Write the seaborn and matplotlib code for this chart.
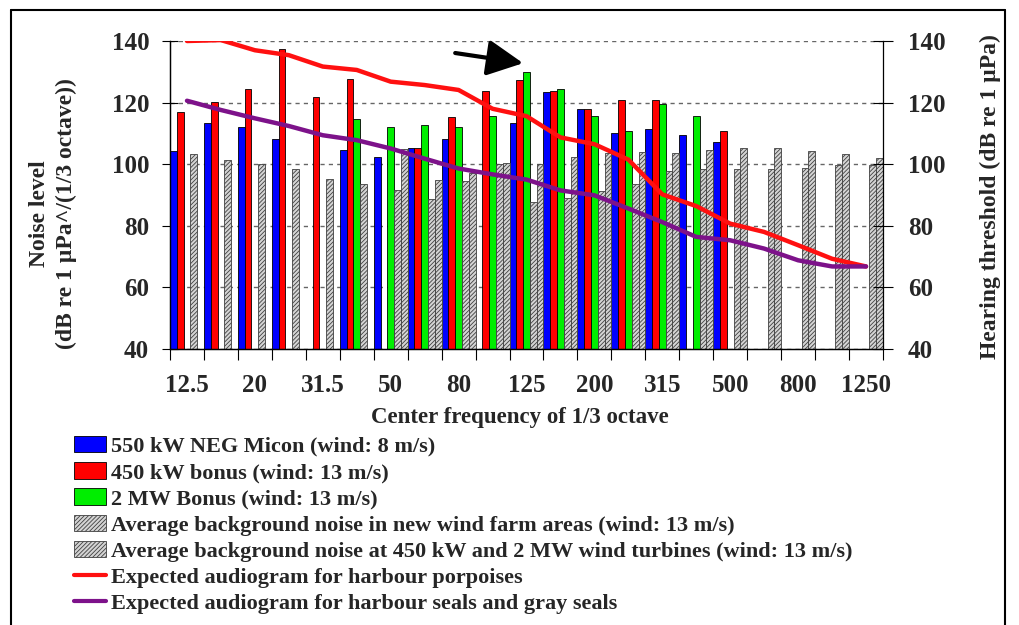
import numpy as np
import pandas as pd
import seaborn as sns
import matplotlib.pyplot as plt
from matplotlib.patches import Patch
from matplotlib.lines import Line2D

nan = np.nan

# 1/3 octave centre frequencies (Hz)
freqs = ["12.5", "16", "20", "25", "31.5", "40", "50", "63", "80", "100", "125",
         "160", "200", "250", "315", "400", "500", "630", "800", "1000", "1250"]

# noise levels, dB re 1 uPa^2/(1/3 octave)
neg_micon_550 = [104.3, 113.4, 112.1, 108.2, nan, 104.6, 102.2, 105.4, 108.1, nan, 113.4,
                 123.5, 117.8, 110.0, 111.3, 109.6, 107.3, nan, nan, nan, nan]
bonus_450 = [117.0, 120.1, 124.3, 137.4, 121.9, 127.8, nan, 105.4, 115.4, 123.8, 127.5,
             123.8, 117.8, 120.8, 120.8, nan, 110.9, nan, nan, nan, nan]
bonus_2mw = [nan, nan, nan, nan, nan, 114.6, 112.1, 112.7, 112.1, 115.6, 129.8,
             124.5, 115.6, 110.8, 119.5, 115.6, nan, nan, nan, nan, nan]
bg_new_farm = [103.3, 101.5, 100.0, 98.3, 95.3, 93.7, 91.5, 88.6, 94.4, 100.0, 87.8,
               89.1, 91.2, 93.7, 97.7, 98.6, 98.6, 98.3, 98.8, 99.7, 99.9]
bg_turbines = [nan, nan, nan, nan, nan, nan, 104.8, 94.8, 97.3, 100.4, 100.0,
               102.4, 103.5, 104.0, 103.5, 104.6, 105.1, 105.1, 104.3, 103.3, 102.1]

# hearing thresholds, dB re 1 uPa
porpoise = [140.0, 140.3, 137.0, 135.4, 131.7, 130.6, 126.8, 125.7, 124.1, 118.0, 115.6,
            108.7, 106.5, 101.5, 90.2, 86.4, 80.7, 78.0, 73.7, 69.3, 66.8]
seals = [120.6, 117.6, 114.9, 112.4, 109.4, 107.8, 105.1, 101.8, 98.6, 96.7, 95.0,
         91.5, 89.9, 85.6, 81.2, 76.4, 75.3, 72.6, 68.8, 66.8, 66.8]

series_names = ["550 kW NEG Micon (wind: 8 m/s)",
                "450 kW bonus (wind: 13 m/s)",
                "2 MW Bonus (wind: 13 m/s)",
                "Average background noise in new wind farm areas (wind: 13 m/s)",
                "Average background noise at 450 kW and 2 MW wind turbines (wind: 13 m/s)"]
line_names = ["Expected audiogram for harbour porpoises",
              "Expected audiogram for harbour seals and gray seals"]
bar_colors = ["#0000ff", "#ff0000", "#00ee00", "#d4d4d4", "#d4d4d4"]

df = pd.DataFrame({
    "freq": freqs * 5,
    "series": np.repeat(series_names, len(freqs)),
    "level": np.concatenate([neg_micon_550, bonus_450, bonus_2mw, bg_new_farm, bg_turbines]),
})

sns.set_style("ticks")
plt.rcParams['font.family'] = ['Liberation Serif', 'DejaVu Serif']
plt.rcParams['font.weight'] = 'bold'
plt.rcParams['hatch.linewidth'] = 0.6

fig = plt.figure(figsize=(10.19, 6.25), dpi=100)
ax = fig.add_axes([170 / 1019, 1 - 349 / 625, 713 / 1019, 308 / 625])

sns.barplot(data=df, x="freq", y="level", hue="series", hue_order=series_names,
            order=freqs, palette=bar_colors, width=1.0, saturation=1, errorbar=None,
            edgecolor="black", linewidth=0.6, legend=False, ax=ax)

for cont in ax.containers[3:]:
    for bar in cont:
        bar.set_hatch("////////")
        bar.set_edgecolor("#404040")

ax2 = ax.twinx()
sns.lineplot(x=np.arange(len(freqs)), y=porpoise, color="#ff1010", lw=3.2, ax=ax2,
             solid_capstyle="round")
sns.lineplot(x=np.arange(len(freqs)), y=seals, color="#7d128a", lw=3.2, ax=ax2,
             solid_capstyle="round")

for a in (ax, ax2):
    a.set_ylim(40, 140)
    a.set_yticks(range(40, 141, 20))
    a.set_ylabel("")
    a.set_xlabel("")
ax.set_xlim(-0.5, len(freqs) - 0.5)

ax.yaxis.grid(True, color="#666666", linestyle=(0, (3, 3)), lw=1)
ax.set_axisbelow(True)
ax.spines["top"].set_visible(False)
ax2.spines["top"].set_visible(False)
ax.spines["right"].set_visible(False)
for a in (ax, ax2):
    for s in ("left", "right", "bottom"):
        a.spines[s].set_color("black")
        a.spines[s].set_linewidth(0.9)

# ticks at group edges, labels at every other group centre
ax.set_xticks(np.arange(len(freqs) + 1) - 0.5)
ax.set_xticklabels([])
ax.set_xticks(np.arange(len(freqs)), minor=True)
ax.set_xticklabels([f if i % 2 == 0 else "" for i, f in enumerate(freqs)], minor=True)
ax.tick_params(axis="x", which="major", direction="out", length=8, width=0.8, color="black")
ax.tick_params(axis="x", which="minor", length=0, pad=18, labelsize=18)
ax.tick_params(axis="y", direction="inout", length=12, width=0.8, color="black",
               labelsize=18, pad=9)
ax2.tick_params(axis="y", direction="inout", length=14, width=0.8, color="black",
                labelsize=18, pad=11)

ax.annotate("", xy=(9.9, 132.8), xytext=(7.9, 136.1),
            arrowprops=dict(arrowstyle="-|>,head_length=1.1,head_width=0.55",
                            color="black", lw=3, mutation_scale=20, shrinkA=0, shrinkB=0))

fig.text(520 / 1019, 1 - 418 / 625, "Center frequency of 1/3 octave", fontsize=16.5,
         ha="center", va="center")
fig.text(53 / 1019, 1 - 214 / 625, "Noise level\n(dB re 1 µPa^/(1/3 octave))", fontsize=17,
         rotation=90, ha="center", va="center", multialignment="center", linespacing=1.35)
fig.text(990 / 1019, 1 - 197 / 625, "Hearing threshold (dB re 1 µPa)", fontsize=17,
         rotation=90, ha="center", va="center")

handles = [Patch(facecolor=c, edgecolor="#404040" if i > 2 else "black", lw=0.6,
                 hatch="////////" if i > 2 else None)
           for i, c in enumerate(bar_colors)]
handles += [Line2D([], [], color="#ff1010", lw=3), Line2D([], [], color="#7d128a", lw=3)]
fig.legend(handles, series_names + line_names, loc="upper left",
           bbox_to_anchor=(74 / 1019, 1 - 436 / 625), frameon=False, fontsize=16,
           handlelength=1.45, handleheight=0.75, labelspacing=0.24, handletextpad=0.2,
           borderpad=0, borderaxespad=0)

# frame round the picture
for xs, ys in (([11, 11], [625, 10]), ([11, 1005], [10, 10]), ([1005, 1005], [10, 625])):
    fig.add_artist(Line2D([x / 1019 for x in xs], [1 - y / 625 for y in ys],
                          transform=fig.transFigure, color="black", lw=1.5))

fig.savefig("out.png", dpi=100)
